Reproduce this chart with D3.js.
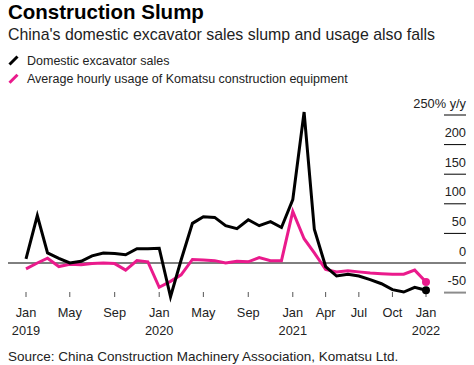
<!DOCTYPE html>
<html>
<head>
<meta charset="utf-8">
<script src="https://cdn.jsdelivr.net/npm/d3@7"></script>
<style>
  body { margin: 0; background: #fff; }
  svg { font-family: 'Liberation Sans', Arial, sans-serif; display: block; }
</style>
</head>
<body>
<svg id="chart" width="474" height="365"></svg>
<script>
// monthly, Jan 2019 .. Jan 2022
const firstMonth = new Date(2019, 0, 1);
const lastMonth = new Date(2022, 0, 1);

const excavatorSales = [
  7, 80, 17, 8, 0, 3, 12, 17, 16, 14, 24, 24,
  25, -57, 5, 67, 78, 77, 63, 58, 73, 63, 70, 60,
  107, 255, 57, -6, -22, -19, -22, -28, -35, -45, -49, -41,
  -46,
];
const komatsuUsage = [
  -10, 0, 8, -6, -2, -3, -1, 0, -1, -12, 4, 2,
  -41, -31, -20, 6, 5, 4, 0, 3, 2, 9, 4, 4,
  87, 41, 17, -11, -15, -13, -15, -17, -18, -19, -19, -12,
  -32,
];

const yTicks = [250, 200, 150, 100, 50, 0, -50];
const xTicks = [
  { date: new Date(2019, 0, 1), label: 'Jan', year: '2019' },
  { date: new Date(2019, 4, 1), label: 'May' },
  { date: new Date(2019, 8, 1), label: 'Sep' },
  { date: new Date(2020, 0, 1), label: 'Jan', year: '2020' },
  { date: new Date(2020, 4, 1), label: 'May' },
  { date: new Date(2020, 8, 1), label: 'Sep' },
  { date: new Date(2021, 0, 1), label: 'Jan', year: '2021' },
  { date: new Date(2021, 3, 1), label: 'Apr' },
  { date: new Date(2021, 6, 1), label: 'Jul' },
  { date: new Date(2021, 9, 1), label: 'Oct' },
  { date: new Date(2022, 0, 1), label: 'Jan', year: '2022' },
];

const seriesList = [
  { name: 'Domestic excavator sales', values: excavatorSales, color: '#000000' },
  { name: 'Average hourly usage of Komatsu construction equipment', values: komatsuUsage, color: '#ea1a8c' },
];

const months = d3.timeMonth.range(firstMonth, d3.timeMonth.offset(lastMonth, 1));

const svg = d3.select('#chart');

const x = d3.scaleTime().domain([firstMonth, lastMonth]).range([26, 426]);
const y = d3.scaleLinear().domain([-50, 250]).range([292.6, 115]);

// title block
svg.append('text')
  .attr('x', 8).attr('y', 19)
  .attr('font-size', 20.5).attr('font-weight', 'bold')
  .text('Construction Slump');
svg.append('text')
  .attr('x', 8).attr('y', 39.5)
  .attr('font-size', 15.9).attr('fill', '#222')
  .text("China's domestic excavator sales slump and usage also falls");

// legend
const legend = svg.append('g');
seriesList.forEach(function (s, i) {
  const ly = 60.5 + i * 18.3;
  legend.append('line')
    .attr('x1', 9.5).attr('y1', ly + 4)
    .attr('x2', 17.5).attr('y2', ly - 4)
    .attr('stroke', s.color)
    .attr('stroke-width', 3);
  legend.append('text')
    .attr('x', 27).attr('y', ly + 4.3)
    .attr('font-size', 12.5).attr('fill', '#222')
    .text(s.name);
});

// y gridlines (short segments on the right) and labels
const yAxis = svg.append('g');
yTicks.forEach(function (t) {
  if (t === 0) {
    yAxis.append('line')
      .attr('x1', 8).attr('x2', 466)
      .attr('y1', y(t)).attr('y2', y(t))
      .attr('stroke', '#000').attr('stroke-width', 1);
  } else {
    yAxis.append('line')
      .attr('x1', 444).attr('x2', 466)
      .attr('y1', y(t)).attr('y2', y(t))
      .attr('stroke', t === -50 ? '#8c8c8c' : '#000')
      .attr('stroke-width', t === -50 ? 2 : 1);
  }
  yAxis.append('text')
    .attr('x', 466).attr('y', y(t) - 7.5)
    .attr('text-anchor', 'end')
    .attr('font-size', 12.8).attr('fill', '#222')
    .text(t === 250 ? '250% y/y' : t);
});

// x ticks and labels
const xAxis = svg.append('g');
xTicks.forEach(function (t) {
  const px = x(t.date);
  xAxis.append('line')
    .attr('x1', px).attr('x2', px)
    .attr('y1', 292).attr('y2', 297)
    .attr('stroke', '#555').attr('stroke-width', 1);
  xAxis.append('text')
    .attr('x', px).attr('y', 317)
    .attr('text-anchor', 'middle')
    .attr('font-size', 12.8).attr('fill', '#222')
    .text(t.label);
  if (t.year) {
    xAxis.append('text')
      .attr('x', px).attr('y', 335)
      .attr('text-anchor', 'middle')
      .attr('font-size', 12.8).attr('fill', '#222')
      .text(t.year);
  }
});

// lines: pink first, black drawn on top
const line = d3.line()
  .x(function (d, i) { return x(months[i]); })
  .y(function (d) { return y(d); });

seriesList.slice().reverse().forEach(function (s) {
  svg.append('path')
    .datum(s.values)
    .attr('fill', 'none')
    .attr('stroke', s.color)
    .attr('stroke-width', 3)
    .attr('stroke-linejoin', 'miter')
    .attr('d', line);
  const last = s.values.length - 1;
  svg.append('circle')
    .attr('cx', x(months[last]))
    .attr('cy', y(s.values[last]))
    .attr('r', 4)
    .attr('fill', s.color);
});

// source
svg.append('text')
  .attr('x', 8).attr('y', 361)
  .attr('font-size', 13.5).attr('fill', '#222')
  .text('Source: China Construction Machinery Association, Komatsu Ltd.');
</script>
</body>
</html>
